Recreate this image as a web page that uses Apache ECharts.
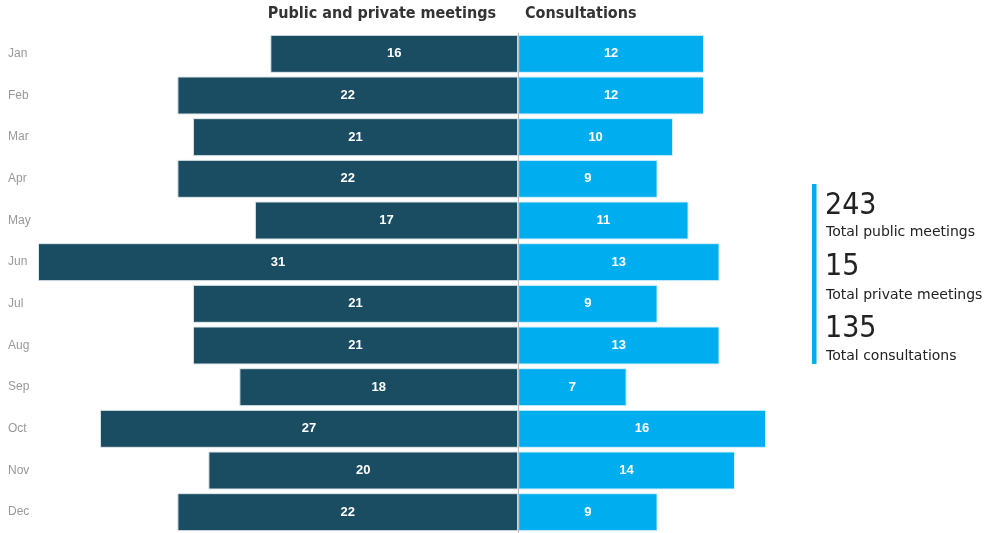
<!DOCTYPE html>
<html><head><meta charset="utf-8">
<script src="https://cdn.jsdelivr.net/npm/echarts@6/dist/echarts.min.js"></script>
<style>html,body{margin:0;padding:0;background:#fff}#c{width:984px;height:533px}</style>
</head><body><div id="c"></div>
<script>
var months = ['Jan','Feb','Mar','Apr','May','Jun','Jul','Aug','Sep','Oct','Nov','Dec'];
var meetings = [16,22,21,22,17,31,21,21,18,27,20,22];
var consultations = [12,12,10,9,11,13,9,13,7,16,14,9];
var kpiValues = ['243','15','135'];
var kpiLabels = ['Total public meetings','Total private meetings','Total consultations'];
var titles = ['Public and private meetings','Consultations'];

var chart = echarts.init(document.getElementById('c'), null, {renderer:'canvas'});
var condFont = '"DejaVu Sans Condensed", "DejaVu Sans", sans-serif';
var plainFont = '"DejaVu Sans", sans-serif';
var graphics = [
  {type:'text', x:496, y:14, style:{text:titles[0], font:'bold 16px ' + condFont, fill:'#333', align:'right', verticalAlign:'middle'}},
  {type:'text', x:525, y:14, style:{text:titles[1], font:'bold 16px ' + condFont, fill:'#333', align:'left', verticalAlign:'middle'}},
  {type:'rect', x:812, y:184, shape:{width:4.5, height:180}, style:{fill:'#00aeef'}}
];
var numMid = [206, 267, 329];
var labMid = [232, 295, 356];
kpiValues.forEach(function(v,i){
  graphics.push({type:'text', x:825, y:numMid[i], style:{text:v, font:'30px ' + condFont, fill:'#222', verticalAlign:'middle'}});
  graphics.push({type:'text', x:826, y:labMid[i], style:{text:kpiLabels[i], font:'14px ' + plainFont, fill:'#222', verticalAlign:'middle'}});
});

chart.setOption({
  animation:false,
  grid:{left:38, width:728, top:33, height:500},
  xAxis:{type:'value', min:-31, max:16, show:false},
  yAxis:{type:'category', data:months, inverse:true,
    axisLine:{show:false}, axisTick:{show:false}, splitLine:{show:false},
    axisLabel:{color:'#999', fontSize:12, fontFamily:'"Liberation Sans", Arial, sans-serif', align:'left', margin:30}},
  series:[
    {type:'bar', name:titles[0], data:meetings.map(function(v){return -v;}), barWidth:38, barGap:'-100%',
     itemStyle:{color:'#1b4d62', borderColor:'#dfe6ea', borderWidth:1},
     label:{show:true, position:'inside', color:'#fff', fontWeight:'bold', fontSize:13, fontFamily:'"Liberation Sans", Arial, sans-serif',
       formatter:function(p){return Math.abs(p.value);}},
     markLine:{silent:true, symbol:'none', label:{show:false}, lineStyle:{color:'#bbb', width:1, type:'solid'}, data:[{xAxis:0}]}
    },
    {type:'bar', name:titles[1], data:consultations, barWidth:38,
     itemStyle:{color:'#00aeef', borderColor:'#d6f1fc', borderWidth:1},
     label:{show:true, position:'inside', color:'#fff', fontWeight:'bold', fontSize:13, fontFamily:'"Liberation Sans", Arial, sans-serif'}
    }
  ],
  graphic:graphics
});
</script></body></html>
